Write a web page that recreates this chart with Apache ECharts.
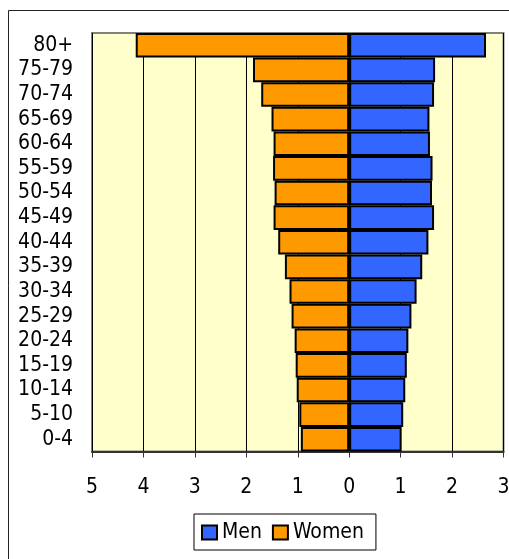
<!DOCTYPE html>
<html>
<head>
<meta charset="utf-8">
<style>
  html, body { margin: 0; padding: 0; background: #ffffff; }
  #chart { width: 509px; height: 559px; }
</style>
<script src="https://cdn.jsdelivr.net/npm/echarts@6/dist/echarts.min.js"></script>
</head>
<body>
<div id="chart"></div>
<script>
// Age groups, youngest first (drawn bottom to top)
const ageGroups = ['0-4', '5-10', '10-14', '15-19', '20-24', '25-29', '30-34', '35-39',
  '40-44', '45-49', '50-54', '55-59', '60-64', '65-69', '70-74', '75-79', '80+'];

// Share of population (%) per age group
const men = [1.02, 1.05, 1.09, 1.12, 1.15, 1.21, 1.31, 1.42, 1.54, 1.65, 1.61, 1.62, 1.57, 1.56, 1.65, 1.67, 2.66];
const women = [0.94, 0.97, 1.02, 1.04, 1.06, 1.12, 1.16, 1.25, 1.38, 1.47, 1.45, 1.48, 1.47, 1.51, 1.71, 1.87, 4.15];

// Value axis tick range
const axisMin = -5;
const axisMax = 3;
const axisStep = 1;

const FONT = 'DejaVu Sans Condensed';

const chart = echarts.init(document.getElementById('chart'), null, { renderer: 'canvas' });

chart.setOption({
  animation: false,
  backgroundColor: '#ffffff',
  textStyle: { fontFamily: FONT },
  graphic: [{
    type: 'rect',
    shape: { x: 8.5, y: 10.5, width: 700, height: 700 },
    style: { fill: 'none', stroke: '#222222', lineWidth: 1 },
    z: -10
  }],
  grid: {
    left: 92, right: 5.5, top: 33, bottom: 107.5,
    containLabel: false,
    outerBoundsMode: 'none',
    show: true,
    backgroundColor: '#FFFFCC',
    borderColor: '#808080',
    borderWidth: 2
  },
  legend: {
    data: ['Men', 'Women'],
    left: 194, top: 514,
    orient: 'horizontal',
    backgroundColor: '#ffffff',
    borderColor: '#000000',
    borderWidth: 1,
    borderRadius: 0,
    padding: [8, 12, 7, 7],
    itemWidth: 15,
    itemHeight: 14,
    itemGap: 10,
    icon: 'rect',
    textStyle: { fontFamily: FONT, fontSize: 21, color: '#000000' }
  },
  xAxis: {
    type: 'value',
    min: axisMin,
    max: axisMax,
    interval: axisStep,
    axisLine: { show: true, onZero: false, lineStyle: { color: '#333333', width: 2 } },
    axisTick: { show: true, length: 6, lineStyle: { color: '#333333', width: 1 } },
    axisLabel: {
      formatter: v => String(Math.abs(v)),
      fontFamily: FONT, fontSize: 21, color: '#000000', margin: 26
    },
    splitLine: { show: true, lineStyle: { color: '#000000', width: 1 } }
  },
  yAxis: {
    type: 'category',
    data: ageGroups,
    axisLine: { show: false },
    axisTick: { show: false },
    axisLabel: { interval: 0, fontFamily: FONT, fontSize: 21, color: '#000000', margin: 19 },
    splitLine: { show: false }
  },
  series: [
    {
      name: 'Men',
      type: 'bar',
      data: men,
      barCategoryGap: '0%',
      barGap: '-100%',
      itemStyle: { color: '#3366FF', borderColor: '#000000', borderWidth: 2 }
    },
    {
      name: 'Women',
      type: 'bar',
      data: women.map(v => -v),
      barCategoryGap: '0%',
      barGap: '-100%',
      itemStyle: { color: '#FF9900', borderColor: '#000000', borderWidth: 2 }
    }
  ]
});
</script>
</body>
</html>
